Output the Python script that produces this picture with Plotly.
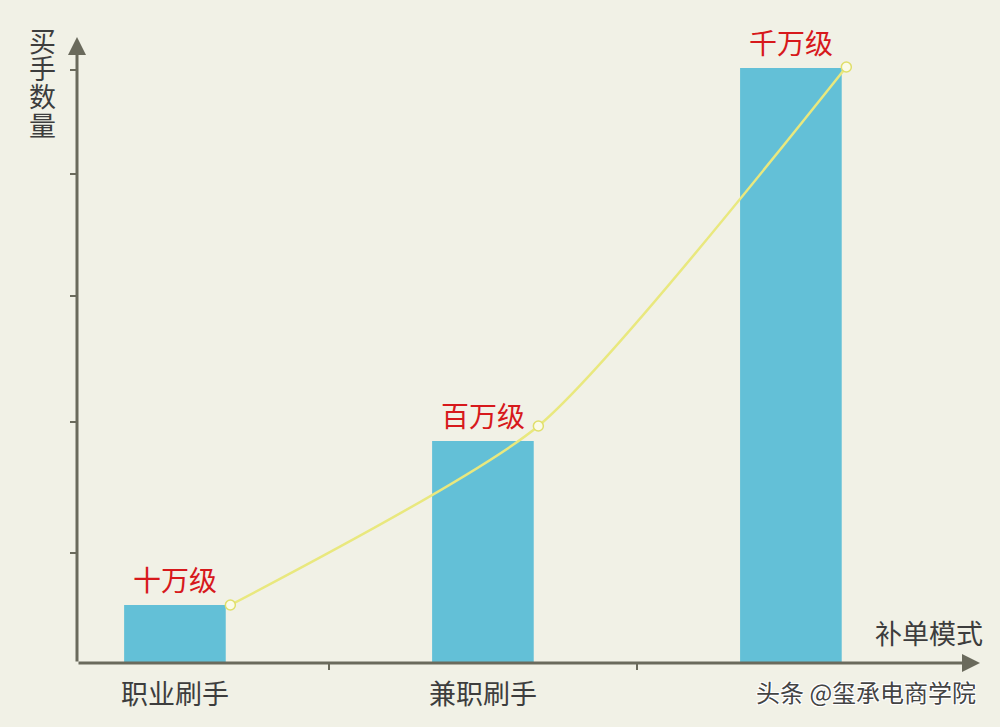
import plotly.graph_objects as go

# categories and values (pixel-ish units)
categories = ["职业刷手", "兼职刷手", ""]
cat_pos = [0, 1, 2]
buyer_counts = [58, 222, 595]
level_labels = ["十万级", "百万级", "千万级"]

trend_x = [0.18, 1.18, 2.18]
trend_y = [58, 237, 596]

y_ticks = [110, 241, 367, 489, 593]
x_ticks = [0.5, 1.5]

x_range = [-0.318, 2.614]
y_range = [0, 626]

y_title_chars = ["买", "手", "数", "量"]
y_title_pos = [0.995, 0.951, 0.906, 0.861]

FONT = "Noto Sans CJK SC"
AXIS_COLOR = "#6a6a5c"
TEXT_COLOR = "#3d3d3d"

fig = go.Figure()

fig.add_trace(go.Bar(
    x=cat_pos, y=buyer_counts, width=0.33,
    marker=dict(color="#63c0d7", line=dict(width=0)),
    hoverinfo="skip",
))

fig.add_trace(go.Scatter(
    x=trend_x, y=trend_y, mode="lines+markers",
    line=dict(color="#e9e87e", width=2.5, shape="spline", smoothing=0.6),
    marker=dict(size=10, color="#fbfbe8", line=dict(color="#e0df6a", width=1.5)),
    hoverinfo="skip",
))

annotations = []
# red level labels above bars
for xp, v, lab in zip(cat_pos, buyer_counts, level_labels):
    annotations.append(dict(
        x=xp, y=v, text=lab, showarrow=False, yanchor="bottom", yshift=4,
        font=dict(family=FONT, size=28, color="#d7191c"),
    ))

# category labels under the axis
for xp, lab in zip(cat_pos, categories):
    if lab:
        annotations.append(dict(
            x=xp, y=0, text=lab, showarrow=False, yanchor="middle", yshift=-29,
            font=dict(family=FONT, size=27, color=TEXT_COLOR),
        ))

# axes with arrows
annotations.append(dict(
    x=x_range[0], y=y_range[1], ax=x_range[0], ay=y_range[0],
    xref="x", yref="y", axref="x", ayref="y",
    showarrow=True, arrowhead=2, arrowsize=1.2, arrowwidth=3, arrowcolor=AXIS_COLOR, text="",
))
annotations.append(dict(
    x=x_range[1], y=y_range[0], ax=x_range[0], ay=y_range[0],
    xref="x", yref="y", axref="x", ayref="y",
    showarrow=True, arrowhead=2, arrowsize=1.2, arrowwidth=3, arrowcolor=AXIS_COLOR, text="",
))

# axis titles (stacked vertical characters)
for ch, yp in zip(y_title_chars, y_title_pos):
    annotations.append(dict(
        x=-0.0377, y=yp, xref="paper", yref="paper", xanchor="center", yanchor="middle",
        text=ch, showarrow=False,
        font=dict(family=FONT, size=27, color=TEXT_COLOR),
    ))
annotations.append(dict(
    x=1.0055, y=0.0495, xref="paper", yref="paper", xanchor="right", yanchor="middle",
    text="补单模式", showarrow=False,
    font=dict(family=FONT, size=27, color=TEXT_COLOR),
))

# watermark
annotations.append(dict(
    x=0.998, y=-0.046, xref="paper", yref="paper", xanchor="right", yanchor="middle",
    text="头条 @玺承电商学院", showarrow=False,
    font=dict(family=FONT, size=24, color="#444444",
              shadow="1px 1px 0 #ffffff, -1px -1px 0 #ffffff, 1px -1px 0 #ffffff, -1px 1px 0 #ffffff"),
))

fig.update_layout(
    width=1000, height=727,
    margin=dict(l=77, r=20, t=37, b=64),
    paper_bgcolor="#f1f1e6", plot_bgcolor="#f1f1e6",
    showlegend=False,
    annotations=annotations,
    xaxis=dict(
        range=x_range, tickvals=x_ticks, ticktext=["", ""], ticks="outside",
        ticklen=6, tickwidth=2, tickcolor=AXIS_COLOR,
        showgrid=False, zeroline=False, showline=False,
    ),
    yaxis=dict(
        range=y_range, tickvals=y_ticks, ticktext=[""] * len(y_ticks), ticks="outside",
        ticklen=6, tickwidth=2, tickcolor=AXIS_COLOR,
        showgrid=False, zeroline=False, showline=False,
    ),
)

fig.write_html("out.html", config={"displayModeBar": False},
               post_script="document.body.style.margin='0';")
